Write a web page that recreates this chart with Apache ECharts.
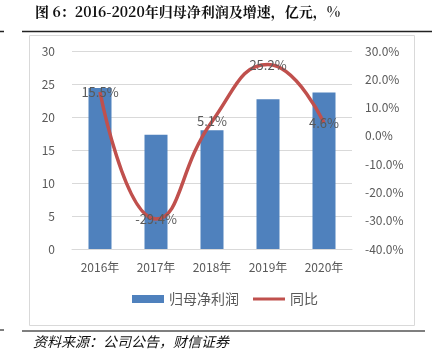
<!DOCTYPE html>
<html><head><meta charset="utf-8">
<script src="https://cdn.jsdelivr.net/npm/echarts@6/dist/echarts.min.js"></script>
<style>html,body{margin:0;padding:0;background:#fff}#c{width:432px;height:364px}</style>
</head><body><div id="c"></div>
<script>
const categories = ['2016年','2017年','2018年','2019年','2020年'];
const profit = [24.4, 17.3, 18.0, 22.7, 23.7];
const growth = [15.5, -29.4, 5.1, 25.2, 4.6];
const leftTicks = {min: 0, max: 30, interval: 5};
const rightTicks = {min: -40, max: 30, interval: 10};
const titleText = '图 6：2016-2020年归母净利润及增速，亿元，%';
const sourceText = '资料来源：公司公告，财信证券';

const chart = echarts.init(document.getElementById('c'));
const txt = '#595959';
const font = '"Noto Sans CJK SC", sans-serif';
chart.setOption({
  animation: false,
  textStyle: {fontFamily: font},
  graphic: [
    {type: 'text', left: 35, top: 5, style: {text: titleText, font: 'bold 14px "Noto Serif CJK SC", "DejaVu Serif", "Noto Sans CJK SC", serif', fill: '#111'}},
    {type: 'line', shape: {x1: 22, y1: 31.5, x2: 432, y2: 31.5}, style: {stroke: '#222', lineWidth: 1.5}},
    {type: 'line', shape: {x1: 0, y1: 31.5, x2: 4, y2: 31.5}, style: {stroke: '#222', lineWidth: 1.5}},
    {type: 'rect', shape: {x: 29.5, y: 35.5, width: 385, height: 290}, style: {fill: 'none', stroke: '#d9d9d9', lineWidth: 1}},
    {type: 'line', shape: {x1: 22, y1: 331, x2: 425, y2: 331}, style: {stroke: '#555', lineWidth: 1.5}},
    {type: 'line', shape: {x1: 0, y1: 330, x2: 4, y2: 330}, style: {stroke: '#555', lineWidth: 1.5}},
    {type: 'text', left: 33, top: 335, style: {text: sourceText, font: 'italic 14px "Noto Sans CJK SC", sans-serif', fill: '#111'}}
  ],
  grid: {left: 72, right: 80, top: 51, bottom: 115},
  legend: {
    bottom: 53, left: 127, itemGap: 14, itemWidth: 32, itemHeight: 8,
    textStyle: {color: txt, fontSize: 14, fontFamily: font},
    data: [
      {name: '归母净利润', icon: 'rect'},
      {name: '同比', icon: 'path://M0,0L0.01,0ZM0,2.6H32V5.4H0ZM0,8L0.01,8Z', itemStyle: {color: '#C0504D'}}
    ]
  },
  xAxis: {
    type: 'category', data: categories,
    axisLine: {show: true, lineStyle: {color: '#d9d9d9'}},
    axisTick: {show: false},
    axisLabel: {color: txt, fontSize: 12, margin: 12}
  },
  yAxis: [
    {type: 'value', min: leftTicks.min, max: leftTicks.max, interval: leftTicks.interval,
     axisLine: {show: false}, axisTick: {show: false},
     axisLabel: {color: txt, fontSize: 12, margin: 17},
     splitLine: {lineStyle: {color: '#d9d9d9'}}},
    {type: 'value', min: rightTicks.min, max: rightTicks.max, interval: rightTicks.interval,
     axisLine: {show: false}, axisTick: {show: false},
     axisLabel: {color: txt, fontSize: 12, margin: 13, formatter: v => v.toFixed(1) + '%'},
     splitLine: {show: false}}
  ],
  series: [
    {name: '归母净利润', type: 'bar', data: profit, barWidth: 23,
     itemStyle: {color: '#4F81BD'}},
    {name: '同比', type: 'line', yAxisIndex: 1, data: growth, smooth: 0.5,
     symbol: 'circle', symbolSize: 0.1, showSymbol: true,
     lineStyle: {color: '#C0504D', width: 3.5}, itemStyle: {color: '#C0504D'},
     label: {show: true, position: 'inside', color: txt, fontSize: 13, formatter: p => p.value.toFixed(1) + '%'}}
  ]
});
</script></body></html>
